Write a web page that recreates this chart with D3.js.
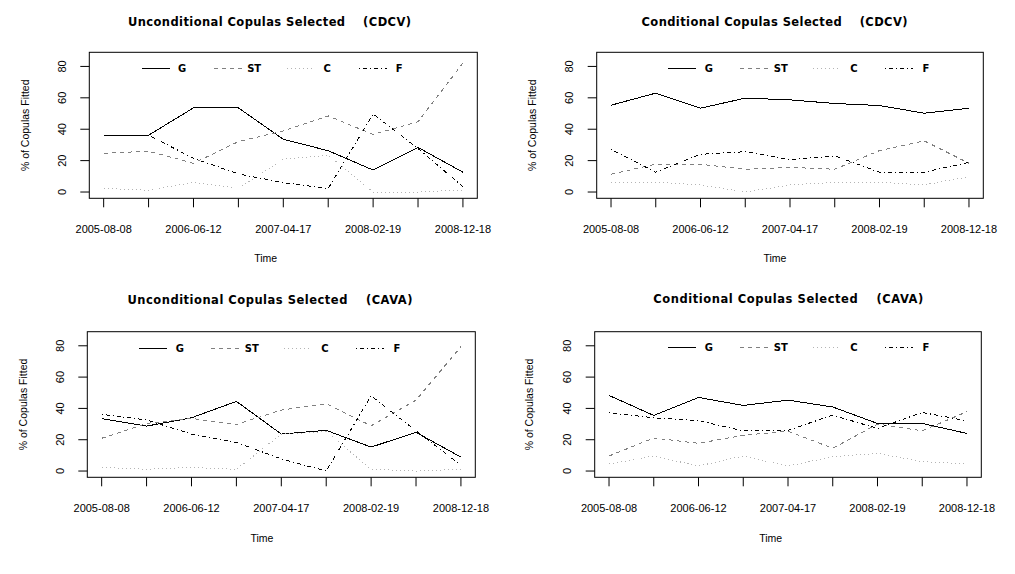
<!DOCTYPE html>
<html>
<head>
<meta charset="utf-8">
<script src="https://cdn.jsdelivr.net/npm/d3@7"></script>
<style>
  body { margin: 0; background: #fff; }
  svg { display: block; }
</style>
</head>
<body>
<svg id="chart" width="1015" height="574"></svg>
<script>
// time points (index) and the date labels R managed to print
var periods = [0, 1, 2, 3, 4, 5, 6, 7, 8];
var tickIdx = [0, 2, 4, 6, 8];
var tickLabels = ["2005-08-08", "2006-06-12", "2007-04-17", "2008-02-19", "2008-12-18"];
var yTicks = [0, 20, 40, 60, 80];
var copulas = ["G", "ST", "C", "F"];

// Unconditional, CDCV
var uncCdcvG  = [36.2, 36.2, 53.6, 53.6, 33.6, 26.3, 14.0, 28.4, 12.6];
var uncCdcvST = [24.7, 26.0, 18.3, 32.1, 38.9, 48.5, 36.7, 44.8, 82.1];
var uncCdcvC  = [2.3, 1.1, 6.2, 2.3, 20.9, 23.4, 0, 0, 1.3];
var uncCdcvF  = [36.2, 36.2, 21.5, 11.5, 6.0, 2.2, 49.7, 27.7, 3.4];

// Conditional, CDCV
var conCdcvG  = [55.3, 63.0, 53.4, 59.8, 58.7, 56.4, 55.1, 50.2, 53.4];
var conCdcvST = [11.3, 17.7, 17.7, 14.5, 15.7, 14.5, 26.4, 32.6, 18.3];
var conCdcvC  = [6.2, 6.2, 4.5, 0, 4.5, 6.2, 6.2, 4.5, 9.8];
var conCdcvF  = [27.2, 12.6, 24.0, 25.7, 20.6, 23.0, 12.6, 12.6, 18.9];

// Unconditional, CAVA
var uncCavaG  = [33.5, 28.7, 34.0, 44.5, 23.6, 26.0, 15.3, 24.7, 8.9];
var uncCavaST = [20.9, 30.4, 33.6, 29.8, 38.9, 43.0, 28.9, 45.3, 79.4];
var uncCavaC  = [2.3, 1.1, 2.3, 1.1, 23.6, 25.1, 1.1, 0, 1.1];
var uncCavaF  = [36.2, 32.6, 23.6, 18.3, 7.7, 0, 48.1, 25.7, 3.8];

// Conditional, CAVA
var conCavaG  = [48.3, 35.5, 47.0, 41.9, 45.3, 40.9, 30.4, 30.4, 24.0];
var conCavaST = [9.6, 21.1, 17.7, 22.8, 25.5, 14.5, 30.0, 25.7, 37.9];
var conCavaC  = [4.5, 9.6, 3.2, 9.6, 3.2, 9.1, 11.3, 6.0, 4.5];
var conCavaF  = [37.2, 34.0, 32.1, 25.7, 26.0, 35.7, 27.2, 37.4, 32.1];

var lineStyle = {
  G:  {stroke: "#000000", dash: null},
  ST: {stroke: "#808080", dash: "4,4"},
  C:  {stroke: "#b4b4b4", dash: "1,3"},
  F:  {stroke: "#000000", dash: "1,3,4,3"}
};

var panels = [
  {title: "Unconditional Copulas Selected    (CDCV)", series: [uncCdcvG, uncCdcvST, uncCdcvC, uncCdcvF],
   box: [89.3, 52.3, 477.3, 198.3], titleX: 269.5, titleY: 26, titleW: 283, timeX: 265.7, timeY: 262,
   ylabX: 25, yTickX: 66, legX: 141.7, legY: 68},
  {title: "Conditional Copulas Selected    (CDCV)", series: [conCdcvG, conCdcvST, conCdcvC, conCdcvF],
   box: [596.7, 52.3, 983.3, 198.3], titleX: 774.5, titleY: 26, titleW: 266, timeX: 775, timeY: 262,
   ylabX: 531.7, yTickX: 573, legX: 668.3, legY: 68},
  {title: "Unconditional Copulas Selected    (CAVA)", series: [uncCavaG, uncCavaST, uncCavaC, uncCavaF],
   box: [87.3, 331.7, 475.3, 477.3], titleX: 270, titleY: 304, titleW: 285, timeX: 262, timeY: 542,
   ylabX: 23.3, yTickX: 64, legX: 139.3, legY: 348.3},
  {title: "Conditional Copulas Selected    (CAVA)", series: [conCavaG, conCavaST, conCavaC, conCavaF],
   box: [594.7, 331.7, 981.3, 477.3], titleX: 788.3, titleY: 303, titleW: 270, timeX: 770.7, timeY: 542,
   ylabX: 529.3, yTickX: 571, legX: 668.3, legY: 347}
];

var svg = d3.select("#chart");
svg.append("rect").attr("width", 1015).attr("height", 574).attr("fill", "#fff");

var legendOffsets = [0, 72, 145, 217];

function drawPanel(p) {
  var L = p.box[0], T = p.box[1], R = p.box[2], B = p.box[3];
  var g = svg.append("g");

  var x = d3.scaleLinear().domain([-0.32, 8.32]).range([L, R]);
  var y = d3.scaleLinear().domain([-4, 89]).range([B, T]);

  // series lines
  var line = d3.line()
    .x(function(d, i) { return x(periods[i]); })
    .y(function(d) { return y(d); });

  copulas.forEach(function(c, k) {
    g.append("path")
      .datum(p.series[k])
      .attr("d", line)
      .attr("fill", "none")
      .attr("stroke", lineStyle[c].stroke)
      .attr("stroke-width", 1)
      .attr("shape-rendering", "crispEdges")
      .attr("stroke-dasharray", lineStyle[c].dash);
  });

  // box
  g.append("rect")
    .attr("x", L).attr("y", T)
    .attr("width", R - L).attr("height", B - T)
    .attr("fill", "none").attr("stroke", "#000").attr("stroke-width", 1);

  // x axis: ticks at every period, labels only at some
  g.selectAll(".xt").data(periods).enter().append("line")
    .attr("x1", function(d) { return x(d); })
    .attr("x2", function(d) { return x(d); })
    .attr("y1", B).attr("y2", B + 9)
    .attr("stroke", "#000");

  g.selectAll(".xl").data(tickIdx).enter().append("text")
    .attr("x", function(d) { return x(d); })
    .attr("y", B + 35)
    .attr("text-anchor", "middle")
    .style("font-family", "Liberation Sans, Arial, sans-serif")
    .style("font-size", "11px")
    .text(function(d, i) { return tickLabels[i]; });

  // y axis
  g.selectAll(".yt").data(yTicks).enter().append("line")
    .attr("x1", L - 9).attr("x2", L)
    .attr("y1", function(d) { return y(d); })
    .attr("y2", function(d) { return y(d); })
    .attr("stroke", "#000");

  g.selectAll(".yl").data(yTicks).enter().append("text")
    .attr("transform", function(d) { return "translate(" + p.yTickX + "," + y(d) + ") rotate(-90)"; })
    .attr("text-anchor", "middle")
    .style("font-family", "Liberation Sans, Arial, sans-serif")
    .style("font-size", "11px")
    .text(function(d) { return d; });

  // titles
  g.append("text")
    .attr("x", p.titleX).attr("y", p.titleY)
    .attr("text-anchor", "middle")
    .attr("textLength", p.titleW)
    .attr("lengthAdjust", "spacing")
    .style("font-family", "DejaVu Sans, sans-serif")
    .style("font-size", "11.5px").style("font-weight", "bold")
    .style("white-space", "pre")
    .text(p.title);

  g.append("text")
    .attr("x", p.timeX).attr("y", p.timeY)
    .attr("text-anchor", "middle")
    .style("font-family", "Liberation Sans, Arial, sans-serif")
    .style("font-size", "10.5px")
    .text("Time");

  g.append("text")
    .attr("transform", "translate(" + (p.ylabX + 4) + "," + ((T + B) / 2) + ") rotate(-90)")
    .attr("text-anchor", "middle")
    .style("font-family", "Liberation Sans, Arial, sans-serif")
    .style("font-size", "10.5px")
    .text("% of Copulas Fitted");

  // legend, no frame
  copulas.forEach(function(c, k) {
    var lx = p.legX + legendOffsets[k];
    g.append("line")
      .attr("x1", lx).attr("x2", lx + 28)
      .attr("y1", p.legY).attr("y2", p.legY)
      .attr("stroke", lineStyle[c].stroke)
      .attr("shape-rendering", "crispEdges")
      .attr("stroke-dasharray", lineStyle[c].dash);
    g.append("text")
      .attr("x", lx + 40.5).attr("y", p.legY + 4)
      .attr("text-anchor", "middle")
      .style("font-family", "DejaVu Sans, sans-serif")
      .style("font-size", "10px").style("font-weight", "bold")
      .text(c);
  });
}

panels.forEach(drawPanel);
</script>
</body>
</html>
